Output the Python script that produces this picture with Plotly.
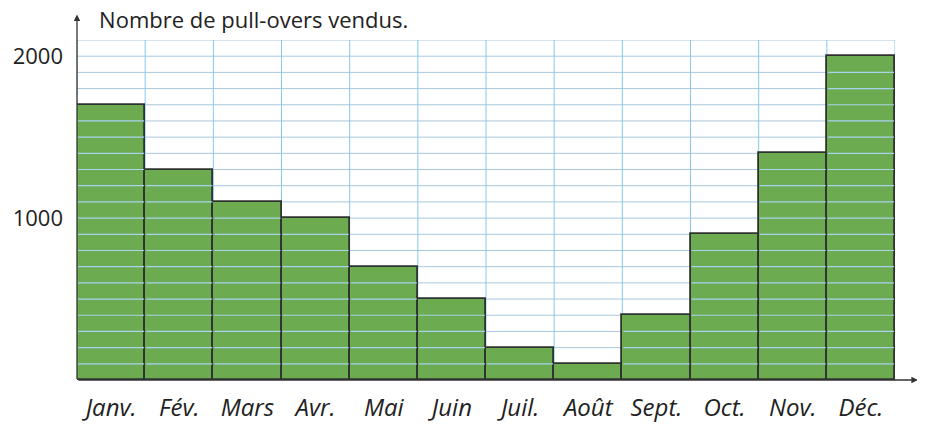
import plotly.graph_objects as go

months = ["Janv.", "Fév.", "Mars", "Avr.", "Mai", "Juin", "Juil.", "Août", "Sept.", "Oct.", "Nov.", "Déc."]
sales = [1700, 1300, 1100, 1000, 700, 500, 200, 100, 400, 900, 1400, 2000]
y_ticks = [1000, 2000]
y_max = 2100
grid_step = 100
title_text = "Nombre de pull-overs vendus."

x_pos = list(range(len(months)))

fig = go.Figure()
fig.add_trace(go.Bar(
    x=x_pos, y=sales, width=1,
    marker=dict(color="#6cab50", line=dict(color="#2f332f", width=1.8)),
    hoverinfo="x+y",
))

shapes = []
# horizontal ruled lines across the paper (below bars)
for v in range(grid_step, y_max + 1, grid_step):
    shapes.append(dict(type="line", xref="x", yref="y", x0=-0.5, x1=len(months) - 0.5,
                       y0=v, y1=v, line=dict(color="#a9c8de", width=1), layer="below"))
# ruled lines showing through the bars (above fill, inside each bar)
for i, val in zip(x_pos, sales):
    for v in range(grid_step, val, grid_step):
        shapes.append(dict(type="line", xref="x", yref="y", x0=i - 0.485, x1=i + 0.485,
                           y0=v, y1=v, line=dict(color="#a8d3ef", width=1.2), layer="above"))
# vertical grid lines at bar boundaries
for k in range(len(months) + 1):
    shapes.append(dict(type="line", xref="x", yref="y", x0=k - 0.5, x1=k - 0.5,
                       y0=0, y1=y_max, line=dict(color="#86c8ee", width=1), layer="below"))

annotations = [
    # y-axis arrow
    dict(xref="paper", yref="paper", x=0, y=1.075, ax=0, ay=366, axref="pixel", ayref="pixel",
         showarrow=True, arrowhead=2, arrowsize=1, arrowwidth=1.3, arrowcolor="#333", text=""),
    # x-axis arrow
    dict(xref="paper", yref="paper", x=1.028, y=0, ax=-841, ay=0, axref="pixel", ayref="pixel",
         showarrow=True, arrowhead=2, arrowsize=1, arrowwidth=1.3, arrowcolor="#333", text=""),
]

fig.update_layout(
    width=925, height=425,
    margin=dict(l=69, r=38, t=32, b=53, autoexpand=False),
    plot_bgcolor="white", paper_bgcolor="white",
    showlegend=False, bargap=0,
    title=dict(text=title_text, xref="paper", x=0.027, xanchor="left",
               yref="container", y=0.97, yanchor="middle",
               font=dict(family="Open Sans", size=22, color="#222")),
    shapes=shapes, annotations=annotations,
    xaxis=dict(range=[-0.5, len(months) - 0.5], tickvals=x_pos, ticktext=months,
               showgrid=False, zeroline=False, showline=False, ticks="",
               ticklabelstandoff=11,
               tickfont=dict(family="Open Sans", size=24, color="#222", style="italic")),
    yaxis=dict(range=[0, y_max], tickvals=y_ticks, ticktext=[str(v) for v in y_ticks],
               showgrid=False, zeroline=False, showline=False, ticks="",
               ticklabelstandoff=13,
               tickfont=dict(family="Open Sans", size=22, color="#222")),
)

fig.write_html("out.html")
